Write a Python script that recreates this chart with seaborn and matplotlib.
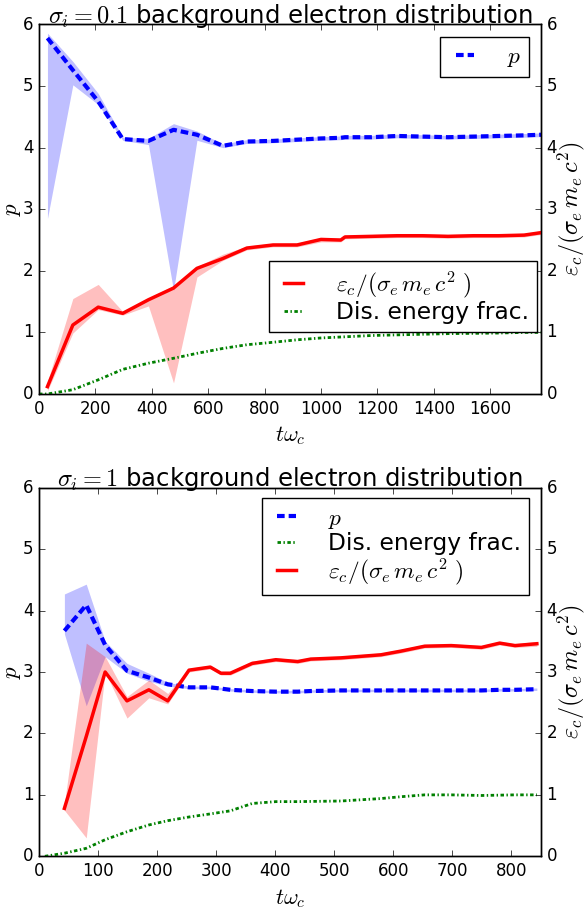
import matplotlib
matplotlib.use("Agg")
import matplotlib.pyplot as plt
import seaborn as sns
import numpy as np

# ---------------- data: top panel (sigma_i = 0.1) ----------------
t_top = [30, 120, 210, 297, 388, 477, 560, 652, 737, 830, 915, 1000, 1070, 1085,
         1180, 1270, 1360, 1450, 1540, 1630, 1720, 1780]
p_top = [5.78, 5.26, 4.75, 4.14, 4.11, 4.29, 4.21, 4.03, 4.10, 4.11, 4.13, 4.15,
         4.16, 4.17, 4.17, 4.19, 4.18, 4.17, 4.18, 4.19, 4.20, 4.21]
p_top_lo = [2.85, 5.02, 4.70, 4.12, 4.05, 1.68, 4.12, 4.00, 4.07, 4.08, 4.10, 4.12,
            4.13, 4.14, 4.14, 4.16, 4.15, 4.14, 4.15, 4.16, 4.17, 4.18]
p_top_hi = [5.86, 5.40, 4.88, 4.17, 4.15, 4.39, 4.27, 4.06, 4.13, 4.14, 4.16, 4.18,
            4.19, 4.20, 4.20, 4.22, 4.21, 4.20, 4.21, 4.22, 4.23, 4.24]
e_top = [0.12, 1.12, 1.41, 1.31, 1.53, 1.72, 2.04, 2.20, 2.37, 2.42, 2.42, 2.51,
         2.50, 2.55, 2.56, 2.57, 2.57, 2.56, 2.57, 2.57, 2.58, 2.62]
e_top_lo = [0.05, 0.99, 1.37, 1.28, 1.43, 0.18, 1.90, 2.17, 2.34, 2.39, 2.39, 2.47,
            2.47, 2.52, 2.53, 2.54, 2.54, 2.53, 2.54, 2.54, 2.55, 2.59]
e_top_hi = [0.20, 1.55, 1.78, 1.34, 1.56, 1.76, 2.07, 2.27, 2.40, 2.45, 2.45, 2.54,
            2.53, 2.58, 2.59, 2.60, 2.60, 2.59, 2.60, 2.60, 2.61, 2.65]
g_top_t = [0, 30, 120, 210, 297, 388, 477, 560, 652, 737, 830, 915, 1000, 1090,
           1180, 1270, 1360, 1450, 1540, 1630, 1720, 1780]
g_top = [0.0, 0.0, 0.07, 0.23, 0.40, 0.50, 0.58, 0.66, 0.74, 0.80, 0.84, 0.88,
         0.91, 0.93, 0.95, 0.96, 0.97, 0.98, 0.985, 0.99, 1.0, 1.0]

# ---------------- data: bottom panel (sigma_i = 1) ----------------
t_bot = [43, 80, 112, 149, 186, 218, 254, 290, 308, 324, 361, 401, 438, 460, 511,
         579, 613, 653, 698, 749, 780, 806, 843]
p_bot = [3.67, 4.09, 3.44, 3.02, 2.91, 2.80, 2.75, 2.75, 2.73, 2.71, 2.69, 2.68,
         2.68, 2.69, 2.70, 2.70, 2.70, 2.70, 2.70, 2.70, 2.71, 2.71, 2.72]
p_bot_lo = [3.62, 2.45, 3.25, 2.98, 2.85, 2.77, 2.73, 2.73, 2.71, 2.69, 2.67, 2.66,
            2.66, 2.67, 2.68, 2.68, 2.68, 2.68, 2.68, 2.68, 2.69, 2.69, 2.70]
p_bot_hi = [4.27, 4.43, 3.50, 3.14, 2.98, 2.83, 2.77, 2.77, 2.75, 2.73, 2.71, 2.70,
            2.70, 2.71, 2.72, 2.72, 2.72, 2.72, 2.72, 2.72, 2.73, 2.73, 2.74]
e_bot = [0.78, 1.95, 3.00, 2.53, 2.71, 2.53, 3.03, 3.08, 2.98, 2.98, 3.14, 3.20,
         3.17, 3.21, 3.23, 3.28, 3.34, 3.42, 3.43, 3.40, 3.47, 3.43, 3.46]
e_bot_lo = [0.75, 0.30, 3.00, 2.25, 2.58, 2.48, 3.00, 3.05, 2.95, 2.95, 3.11, 3.17,
            3.14, 3.18, 3.20, 3.25, 3.31, 3.39, 3.40, 3.37, 3.44, 3.40, 3.42]
e_bot_hi = [0.85, 3.47, 3.25, 2.60, 2.87, 2.65, 3.06, 3.11, 3.01, 3.01, 3.18, 3.23,
            3.20, 3.24, 3.26, 3.31, 3.37, 3.45, 3.46, 3.43, 3.50, 3.46, 3.50]
g_bot_t = [10, 43, 80, 112, 149, 186, 218, 254, 290, 324, 361, 401, 438, 511, 579,
           613, 653, 698, 749, 806, 843]
g_bot = [0.0, 0.05, 0.13, 0.27, 0.40, 0.51, 0.58, 0.64, 0.69, 0.74, 0.86, 0.89,
         0.89, 0.90, 0.94, 0.97, 1.0, 1.0, 0.99, 1.0, 1.0]

titles = [r"$\sigma_i=0.1$ background electron distribution",
          r"$\sigma_i=1$ background electron distribution"]
lab_p = r"$p$"
lab_e = r"$\varepsilon_c/(\sigma_e\, m_e\, c^2\ )$"
lab_g = "Dis. energy frac."
xlims = [1780, 850]

plt.style.use("classic")
plt.rcParams["figure.facecolor"] = "white"
plt.rcParams["savefig.facecolor"] = "white"
plt.rcParams["font.family"] = ["DejaVu Sans"]
plt.rcParams["mathtext.fontset"] = "cm"

fig = plt.figure(figsize=(5.87, 9.13), dpi=100)
W, H = 587.0, 913.0
ax_top = fig.add_axes([39 / W, 1 - 394 / H, 502 / W, 369.5 / H])
ax_bot = fig.add_axes([39 / W, 1 - 856.3 / H, 502 / W, 368.6 / H])

BLUE_D = (5.5, 2.9)
GREEN_D = (2.5, 1.8, 1.0, 1.8)
LEG = dict(fontsize=16.8, handlelength=1.4, labelspacing=0.05,
           handletextpad=1.1, borderaxespad=0, borderpad=0.35)


def panel(ax, t, p, plo, phi, e, elo, ehi, gt, g, title, xmax):
    axr = ax.twinx()
    ax.fill_between(t, plo, phi, color="blue", alpha=0.25, lw=0)
    sns.lineplot(x=t, y=p, ax=ax, color="blue", lw=3, sort=False,
                 estimator=None, label=lab_p, legend=False)
    lp = ax.get_lines()[-1]
    lp.set_dashes(BLUE_D)
    axr.fill_between(t, elo, ehi, color="red", alpha=0.25, lw=0)
    sns.lineplot(x=t, y=e, ax=axr, color="red", lw=2.5, sort=False,
                 estimator=None, label=lab_e, legend=False)
    le = axr.get_lines()[-1]
    sns.lineplot(x=gt, y=g, ax=axr, color="green", lw=2, sort=False,
                 estimator=None, label=lab_g, legend=False)
    lg = axr.get_lines()[-1]
    lg.set_dashes(GREEN_D)
    for a in (ax, axr):
        a.set_xlim(0, xmax)
        a.set_ylim(0, 6)
    ax.set_title(title, fontsize=17.5, pad=1)
    ax.set_xlabel(r"$t\omega_c$", fontsize=16)
    ax.set_ylabel(r"$p$", fontsize=16.5, labelpad=0)
    axr.set_ylabel(r"$\varepsilon_c/(\sigma_e\, m_e\, c^2)$", fontsize=17.5,
                   labelpad=-1)
    return axr, lp, le, lg


axr_t, lp, le, lg = panel(ax_top, t_top, p_top, p_top_lo, p_top_hi, e_top,
                          e_top_lo, e_top_hi, g_top_t, g_top, titles[0], xlims[0])
ax_top.legend([lp], [lab_p], loc="upper right", bbox_to_anchor=(0.977, 0.967),
              **LEG)
axr_t.legend([le, lg], [lab_e, lab_g], loc="lower right",
             bbox_to_anchor=(0.992, 0.168), **LEG)

axr_b, lp2, le2, lg2 = panel(ax_bot, t_bot, p_bot, p_bot_lo, p_bot_hi, e_bot,
                             e_bot_lo, e_bot_hi, g_bot_t, g_bot, titles[1], xlims[1])
axr_b.legend([lp2, lg2, le2], [lab_p, lab_g, lab_e], loc="upper right",
             bbox_to_anchor=(0.977, 0.971), **LEG)

fig.savefig("out.png", dpi=100)
